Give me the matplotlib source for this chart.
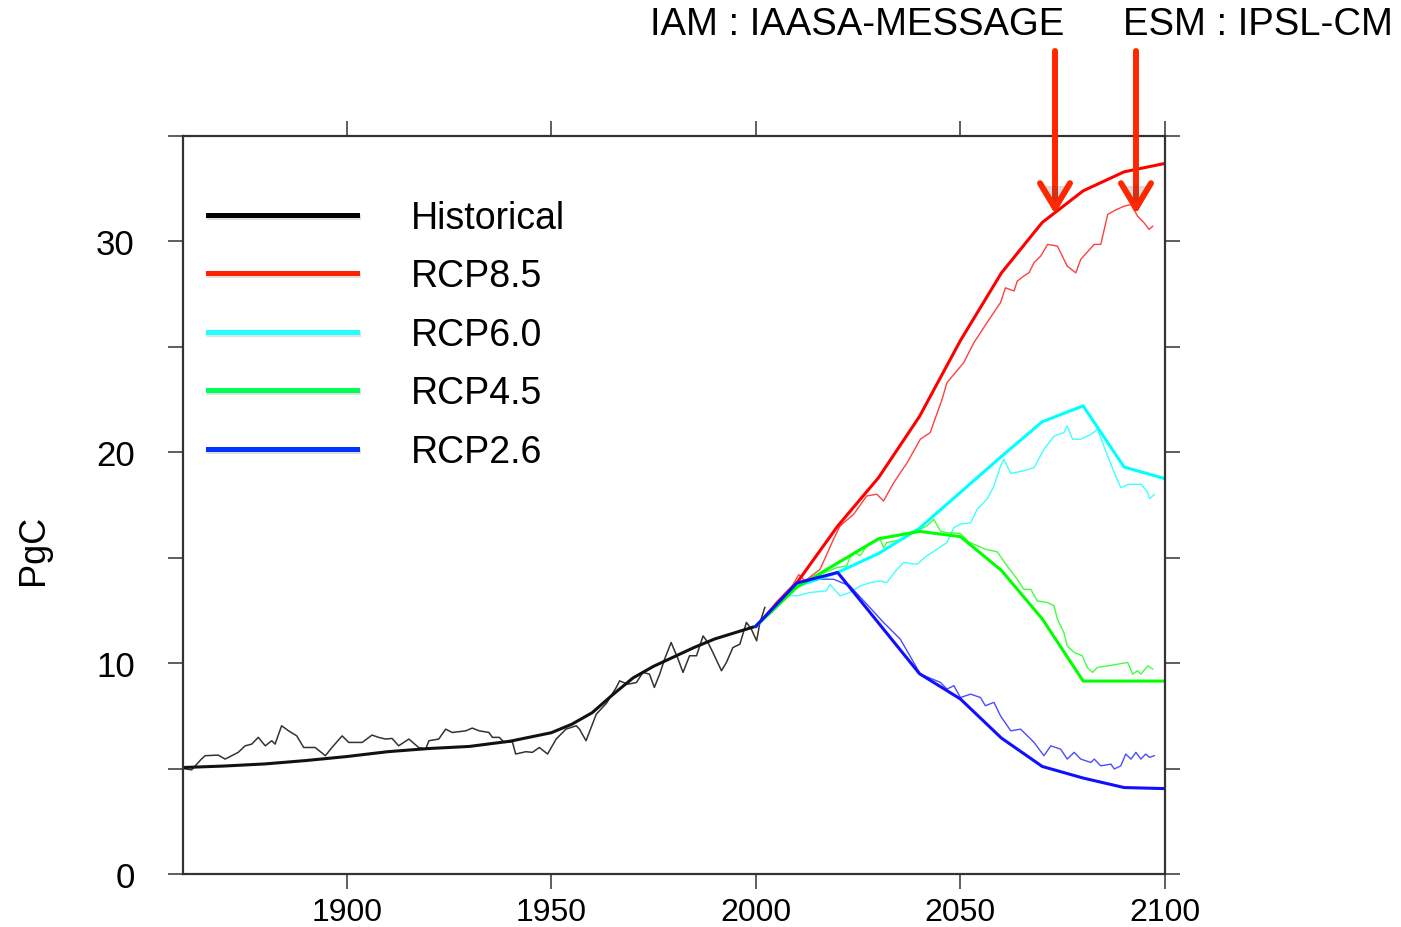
import matplotlib
matplotlib.use("Agg")
import matplotlib.pyplot as plt
import matplotlib.patheffects as pe
from matplotlib.lines import Line2D

# ---- data (PgC) ----
hist_smooth_years = [1860, 1870, 1880, 1890, 1900, 1910, 1920, 1930, 1940, 1950,
                     1955, 1960, 1965, 1970, 1975, 1980, 1985, 1990, 1995, 2000]
hist_smooth = [5.05, 5.12, 5.22, 5.38, 5.57, 5.8, 5.95, 6.05, 6.3, 6.7,
               7.1, 7.65, 8.5, 9.3, 9.85, 10.3, 10.75, 11.15, 11.45, 11.75]

hist_years = [1860, 1862.1, 1864.5, 1865.4, 1868.6, 1870.3, 1871.9, 1873.5, 1875.2, 1876.8,
              1878.4, 1880.1, 1881.7, 1882.5, 1884.1, 1885.8, 1887.8, 1889.5, 1892.3, 1894.8,
              1896.4, 1898.9, 1900.5, 1903.8, 1906.2, 1907.8, 1909.5, 1911.1, 1912.7, 1915.2,
              1917.6, 1919.3, 1920.1, 1922.5, 1924.2, 1925.8, 1929.1, 1930.7, 1932.4, 1934.8,
              1935.6, 1937.3, 1938.5, 1940.5, 1941.3, 1943.8, 1945.4, 1947.1, 1949.1, 1951.2,
              1953.6, 1956.1, 1956.9, 1958.5, 1961.0, 1963.5, 1965.9, 1966.7, 1968.7, 1970.8,
              1972.4, 1974.0, 1975.2, 1976.5, 1977.7, 1979.3, 1981.0, 1982.2, 1983.8, 1985.5,
              1987.1, 1988.3, 1989.5, 1991.6, 1992.8, 1994.4, 1996.1, 1997.7, 1998.9, 2000.2,
              2001.0, 2002.2]
hist_vals = [5.0, 4.94, 5.45, 5.61, 5.64, 5.45, 5.61, 5.77, 6.08, 6.16,
             6.48, 6.08, 6.32, 6.16, 7.03, 6.79, 6.55, 6.0, 6.0, 5.61,
             6.0, 6.55, 6.24, 6.24, 6.59, 6.48, 6.4, 6.43, 6.08, 6.4,
             6.0, 5.92, 6.32, 6.4, 6.87, 6.71, 6.79, 6.92, 6.79, 6.71,
             6.48, 6.48, 6.24, 6.27, 5.69, 5.8, 5.77, 6.0, 5.69, 6.4,
             6.87, 7.03, 6.87, 6.32, 7.58, 8.1, 8.85, 9.16, 9.0, 9.08,
             9.56, 9.48, 8.85, 9.48, 10.19, 10.98, 10.19, 9.56, 10.35, 10.35,
             11.29, 10.98, 10.51, 9.64, 10.03, 10.74, 10.9, 11.93, 11.61, 11.06,
             11.93, 12.64]

# IAM scenario pathways (decadal)
iam_years = [2000, 2010, 2020, 2030, 2040, 2050, 2060, 2070, 2080, 2090, 2100]
iam_rcp85 = [11.75, 13.8, 16.5, 18.8, 21.7, 25.3, 28.5, 30.9, 32.4, 33.3, 33.7]
iam_rcp60 = [11.75, 13.65, 14.3, 15.2, 16.4, 18.1, 19.8, 21.45, 22.2, 19.3, 18.75]
iam_rcp45 = [11.75, 13.6, 14.75, 15.9, 16.25, 16.0, 14.4, 12.1, 9.15, 9.15, 9.15]
iam_rcp26 = [11.75, 13.8, 14.3, 11.9, 9.5, 8.3, 6.45, 5.1, 4.55, 4.1, 4.05]

# ESM-diagnosed emissions
esm85_years = [2000.5, 2005, 2009, 2010.5, 2012, 2015.7, 2019.0, 2020.6, 2023.9, 2027.1,
               2029.6, 2031.2, 2033.7, 2037.0, 2040.2, 2042.6, 2045.5, 2046.7, 2050.8, 2053.3,
               2056.5, 2059.8, 2061.0, 2063.1, 2063.9, 2065.5, 2066.8, 2068.0, 2069.6, 2071.3,
               2073.7, 2076.1, 2078.2, 2079.4, 2082.7, 2084.3, 2086.0, 2088.0, 2090.0, 2091.7,
               2093.3, 2094.9, 2096.1, 2097.0]
esm85 = [11.8, 12.9, 13.7, 14.2, 13.9, 14.45, 15.88, 16.51, 17.06, 17.93,
         18.01, 17.69, 18.56, 19.51, 20.62, 20.93, 22.5, 23.3, 24.25, 25.2,
         26.15, 27.1, 27.8, 27.65, 28.12, 28.36, 28.52, 29.0, 29.3, 29.86,
         29.78, 28.83, 28.51, 29.15, 29.86, 29.86, 31.28, 31.5, 31.67, 31.75,
         31.2, 30.88, 30.57, 30.72]

esm60_years = [2000.5, 2005, 2008, 2010.0, 2013.2, 2017.3, 2018.1, 2020.6, 2023.0, 2025.5,
               2028.0, 2030.4, 2032.0, 2034.5, 2036.1, 2039.4, 2041.8, 2044.3, 2046.7, 2048.4,
               2050.0, 2052.5, 2054.1, 2056.5, 2058.2, 2059.8, 2060.6, 2062.3, 2065.0, 2068.0,
               2070.4, 2072.9, 2075.3, 2076.1, 2077.4, 2079.4, 2081.9, 2083.5, 2086.0, 2087.6,
               2089.2, 2091.0, 2094.2, 2095.8, 2096.2, 2097.4]
esm60 = [11.8, 12.6, 13.2, 13.19, 13.35, 13.43, 13.74, 13.19, 13.35, 13.66,
         13.82, 13.9, 13.82, 14.45, 14.77, 14.69, 15.09, 15.4, 15.72, 16.43,
         16.59, 16.66, 17.3, 17.77, 18.4, 19.35, 19.67, 19.0, 19.1, 19.27,
         20.14, 20.77, 20.93, 21.25, 20.62, 20.62, 20.85, 21.09, 19.82, 19.03,
         18.32, 18.48, 18.48, 18.09, 17.8, 18.0]

esm45_years = [2000.5, 2005, 2010, 2012, 2014.9, 2019.8, 2022.2, 2023.0, 2024.3, 2025.5,
               2027.1, 2030.4, 2031.2, 2032.0, 2036.1, 2038.6, 2041.8, 2043.5, 2045.1, 2046.7,
               2050.0, 2052.0, 2056.1, 2059.0, 2061.4, 2063.9, 2065.5, 2067.2, 2068.8, 2071.3,
               2072.9, 2073.7, 2075.3, 2076.1, 2077.8, 2079.8, 2081.0, 2082.3, 2083.5, 2086.0,
               2088.4, 2090.9, 2092.1, 2093.3, 2094.1, 2095.8, 2097.0]
esm45 = [11.8, 12.7, 13.6, 13.8, 14.14, 14.53, 14.61, 15.01, 15.24, 15.09,
         15.56, 15.88, 15.48, 15.72, 15.88, 16.19, 16.51, 16.82, 16.27, 16.19,
         16.15, 15.75, 15.4, 15.28, 14.61, 13.98, 13.5, 13.5, 12.95, 12.87,
         12.72, 12.09, 11.45, 10.82, 10.51, 10.35, 9.8, 9.56, 9.8, 9.87,
         9.95, 10.03, 9.48, 9.64, 9.48, 9.87, 9.72]

esm26_years = [2000.5, 2005, 2010, 2014, 2019, 2023, 2027.1, 2031.2, 2035.3, 2037.5,
               2040.2, 2045.1, 2046.7, 2048.4, 2050.0, 2052.5, 2054.9, 2056.1, 2058.2, 2059.8,
               2062.3, 2064.7, 2068.0, 2070.4, 2072.1, 2074.5, 2076.1, 2077.8, 2079.4, 2081.9,
               2082.7, 2084.3, 2086.8, 2087.6, 2089.2, 2090.4, 2091.7, 2092.9, 2094.1, 2095.3,
               2096.2, 2097.4]
esm26 = [11.8, 12.8, 13.8, 13.98, 13.98, 13.66, 12.8, 11.93, 11.14, 10.4,
         9.48, 9.09, 8.77, 8.93, 8.37, 8.53, 8.37, 7.98, 8.14, 7.5,
         6.79, 6.87, 6.24, 5.61, 6.08, 5.92, 5.45, 5.77, 5.45, 5.29,
         5.45, 5.13, 5.21, 4.98, 5.13, 5.69, 5.45, 5.77, 5.45, 5.69,
         5.53, 5.61]

labels = ["Historical", "RCP8.5", "RCP6.0", "RCP4.5", "RCP2.6"]
legend_colors = ["#000000", "#FF2200", "#22FFFF", "#00FF55", "#0033FF"]

# ---- figure ----
W, H = 1401, 928
fig = plt.figure(figsize=(W / 100, H / 100), dpi=100)
ax = fig.add_axes([183 / W, 1 - 875 / H, (1165 - 183) / W, (875 - 137) / H])

ax.plot(hist_years, hist_vals, color="#333333", lw=1.1)
ax.plot(hist_smooth_years, hist_smooth, color="#111111", lw=2.2)

scen = [
    (esm85_years, esm85, iam_rcp85, "#FF0000"),
    (esm60_years, esm60, iam_rcp60, "#00FFFF"),
    (esm45_years, esm45, iam_rcp45, "#00FF00"),
    (esm26_years, esm26, iam_rcp26, "#1010FF"),
]
for yrs, esm, iam, c in scen:
    ax.plot(yrs, esm, color=c, lw=1.0, alpha=0.75)
for yrs, esm, iam, c in scen:
    ax.plot(iam_years, iam, color=c, lw=2.2)

ax.set_xlim(1860, 2100)
ax.set_ylim(0, 35)
ax.set_xticks([1900, 1950, 2000, 2050, 2100])
ax.set_yticks([0, 10, 20, 30])
ax.set_yticks([5, 15, 25, 35], minor=True)

ax.tick_params(which="both", direction="out", length=10.8, width=1.1, color="#333333",
               top=True, right=True, labeltop=False, labelright=False)
ax.tick_params(axis="y", pad=24)
ax.tick_params(axis="x", pad=6)
for s in ax.spines.values():
    s.set_color("#333333")
    s.set_linewidth(1.6)

for t in ax.get_xticklabels():
    t.set_family(["Liberation Sans Narrow", "Liberation Sans", "DejaVu Sans"])
    t.set_fontsize(23)
for t in ax.get_yticklabels():
    t.set_family(["Liberation Sans", "DejaVu Sans"])
    t.set_fontsize(25)

fig.text(33 / W, 1 - 550 / H, "PgC", rotation=90, ha="center", va="center",
         fontsize=26, family=["Liberation Sans", "DejaVu Sans"])

shadow = [pe.SimpleLineShadow(offset=(0.5, -1.2), alpha=0.12), pe.Normal()]
handles = [Line2D([], [], color=c, lw=3.6, path_effects=shadow) for c in legend_colors]
ax.legend(handles, labels, loc="upper left", bbox_to_anchor=(208 / W, 1 - 201 / H),
          bbox_transform=fig.transFigure, frameon=False, borderpad=0, borderaxespad=0,
          handlelength=3.97, handletextpad=1.44, labelspacing=0.6,
          prop={"family": ["Liberation Sans", "DejaVu Sans"], "size": 27})

# annotations on top
fig.text(650 / W, 1 - 25 / H, "IAM : IAASA-MESSAGE", ha="left", va="center",
         fontsize=27.5, family=["Liberation Sans", "DejaVu Sans"])
fig.text(1123 / W, 1 - 25 / H, "ESM : IPSL-CM", ha="left", va="center",
         fontsize=27.5, family=["Liberation Sans", "DejaVu Sans"])

for xa in (1055, 1136):
    fig.patches.append(matplotlib.patches.FancyArrowPatch(
        (xa, H - 52), (xa, H - 215), transform=None,
        arrowstyle="->, head_length=0.45, head_width=0.27", mutation_scale=40,
        color="#FF2600", lw=4.3, shrinkA=0, shrinkB=0,
        path_effects=[pe.SimplePatchShadow(offset=(1, -2), alpha=0.2), pe.Normal()]))

fig.savefig("out.png", dpi=100)
